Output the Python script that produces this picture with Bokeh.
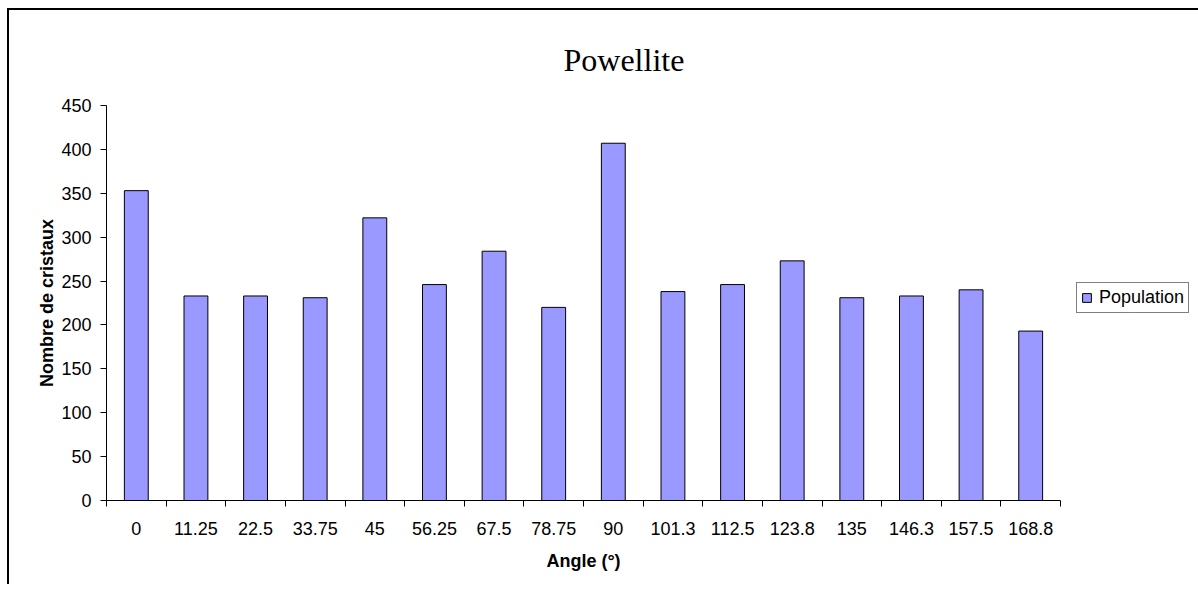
from bokeh.plotting import figure
from bokeh.models import FixedTicker, Legend, LegendItem, ColumnDataSource, Range1d
from bokeh.embed import file_html
from bokeh.resources import INLINE

angles = ["0", "11.25", "22.5", "33.75", "45", "56.25", "67.5", "78.75",
          "90", "101.3", "112.5", "123.8", "135", "146.3", "157.5", "168.8"]
population = [353, 233, 233, 231, 322, 246, 284, 220,
              407, 238, 246, 273, 231, 233, 240, 193]
y_ticks = [0, 50, 100, 150, 200, 250, 300, 350, 400, 450]

pos = [i + 0.5 for i in range(len(angles))]
src = ColumnDataSource(dict(x=pos, top=population, name=angles))

p = figure(frame_width=954, frame_height=395, output_backend="svg", toolbar_location=None,
           x_range=Range1d(0, len(angles)), y_range=Range1d(0, 450),
           min_border_left=97, min_border_top=95, min_border_right=134,
           min_border_bottom=84)
p.margin = (8, 0, 0, 7)
p.styles = {"border-left": "2px solid black", "border-top": "2px solid black"}
p.outline_line_color = None
p.xgrid.visible = False
p.ygrid.visible = False

r = p.vbar(x="x", top="top", width=0.4, bottom=0, source=src,
           fill_color="#9999FF", line_color="black", line_width=1)

font = "Liberation Sans"
xa = p.below[0]
ya = p.left[0]

# title
p.title.text = "Powellite"
p.title.text_font = "Liberation Serif"
p.title.text_font_size = "32px"
p.title.text_font_style = "normal"
p.title.text_color = "black"
p.title.align = "left"
p.title.offset = 457
p.title.standoff = 56

# x axis
xa.ticker = FixedTicker(ticks=pos, minor_ticks=list(range(len(angles) + 1)))
xa.major_label_overrides = {v: a for v, a in zip(pos, angles)}
xa.major_tick_out = 0
xa.major_tick_in = 0
xa.minor_tick_out = 6
xa.minor_tick_in = 0
xa.minor_tick_line_color = "black"
xa.axis_line_color = "black"
xa.major_label_text_font = font
xa.major_label_text_font_size = "18px"
xa.major_label_text_color = "black"
xa.major_label_standoff = 15
xa.axis_label = "Angle (°)"
xa.axis_label_text_font = font
xa.axis_label_text_font_style = "bold"
xa.axis_label_text_font_size = "18px"
xa.axis_label_text_color = "black"
xa.axis_label_standoff = 13

# y axis
ya.ticker = FixedTicker(ticks=y_ticks)
ya.major_tick_out = 6
ya.major_tick_in = 0
ya.minor_tick_out = 0
ya.minor_tick_in = 0
ya.axis_line_color = "black"
ya.major_tick_line_color = "black"
ya.major_label_text_font = font
ya.major_label_text_font_size = "18px"
ya.major_label_text_color = "black"
ya.major_label_standoff = 9
ya.axis_label = "Nombre de cristaux"
ya.axis_label_text_font = font
ya.axis_label_text_font_style = "bold"
ya.axis_label_text_font_size = "18px"
ya.axis_label_text_color = "black"
ya.axis_label_standoff = 1

legend = Legend(items=[LegendItem(label="Population", renderers=[r])],
                location=(16, 187), orientation="vertical",
                label_text_font=font, label_text_font_size="18px",
                label_text_color="black", glyph_width=11, glyph_height=11,
                label_standoff=7, padding=4, margin=0, spacing=0,
                border_line_color="black", border_line_width=1,
                background_fill_color="white", background_fill_alpha=1,
                label_height=18)
p.add_layout(legend, "right")

open("out.html", "w").write(file_html(p, INLINE))
